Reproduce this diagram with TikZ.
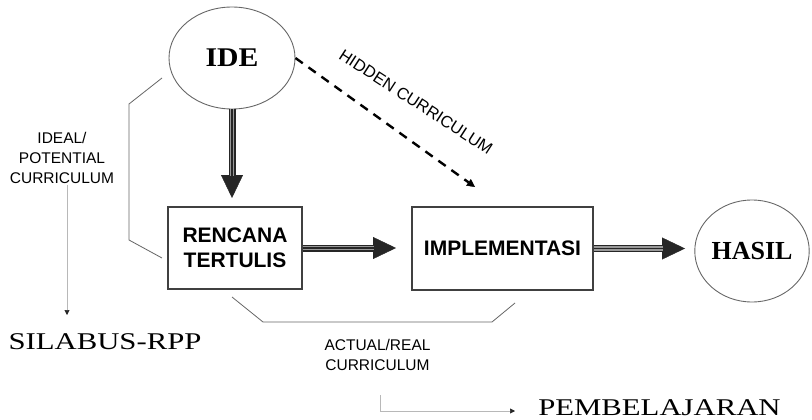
\documentclass[tikz,border=0pt]{standalone}
\usepackage{fontspec}
\usepackage{graphicx}
\setmainfont{Liberation Serif}
\setsansfont{Liberation Sans}
\usetikzlibrary{arrows.meta,shapes.geometric}
\begin{document}
\begin{tikzpicture}[x=1pt,y=-1pt,
  box/.style={draw=black!75, line width=1.1pt, minimum width=134pt, minimum height=82pt, inner sep=0pt, align=center, font=\sffamily\bfseries\fontsize{21}{25}\selectfont},
  oval/.style={ellipse, draw=black!60, line width=0.9pt, inner sep=0pt, font=\bfseries\fontsize{27}{30}\selectfont},
  lbl/.style={font=\sffamily\fontsize{15.5}{20}\selectfont, align=center},
  big/.style={font=\fontsize{24}{28}\selectfont, anchor=base, inner sep=0pt},
  tri/.style={line width=7pt, draw=black!85, -{Triangle[length=23pt,width=22pt,line width=0.4pt]},
    postaction={draw=black!40, line width=4.4pt, shorten >=22pt, -},
    postaction={draw=black!85, line width=1.3pt, shorten >=22pt, -}},
  bracket/.style={draw=black!60, line width=0.8pt},
  thinarrow/.style={draw=black!28, line width=0.6pt, -{Triangle[length=5pt,width=5pt,color=black!85]}},
  hiddenarrow/.style={draw=black, line width=2.4pt, dash pattern=on 9pt off 7pt, -{Triangle[length=8pt,width=8pt,line width=0.4pt]}}
]
\useasboundingbox (0,0) rectangle (812,420);

% main nodes
\node[oval, minimum width=126pt, minimum height=102pt] (ide) at (232,58) {\scalebox{1.1}[1]{IDE}};
\node[box] (ren) at (235,248) {RENCANA\\TERTULIS};
\node[box, minimum width=181pt, minimum height=83pt] (imp) at (502.5,248.5) {IMPLEMENTASI};
\node[oval, minimum width=114pt, minimum height=102pt, font=\bfseries\fontsize{26}{30}\selectfont] (hasil) at (752,251) {HASIL};

% labels
\node[lbl] (ideal) at (62,157.5) {IDEAL/\\POTENTIAL\\CURRICULUM};
\node[lbl] (actual) at (377.5,354.5) {ACTUAL/REAL\\CURRICULUM};
\node[lbl, font=\sffamily\fontsize{16.5}{20}\selectfont, rotate=-33] (hidden) at (416,102) {HIDDEN CURRICULUM};
\node[big] (silabus) at (105,349) {\scalebox{1.28}[1]{SILABUS-RPP}};
\node[big] (pemb) at (659.5,415) {\scalebox{1.28}[1]{PEMBELAJARAN}};

% coordinates
\coordinate (t1) at (232,198);
\coordinate (t2) at (396,248);
\coordinate (t3) at (685,248.5);
\coordinate (h2) at (475,187);
\coordinate (b1) at (162,78);
\coordinate (b2) at (129,104);
\coordinate (b3) at (129,240);
\coordinate (b4) at (162,258);
\coordinate (c1) at (232,297);
\coordinate (c2) at (263,322);
\coordinate (c3) at (492,322);
\coordinate (c4) at (515,303);
\coordinate (g1) at (67,185);
\coordinate (g2) at (67,315);
\coordinate (p1) at (380,395);
\coordinate (p2) at (515,411);

% thick triple arrows
\draw[tri] (ide.south) -- (t1);
\draw[tri] (ren.east) -- (t2);
\draw[tri] (imp.east) -- (t3);

% hidden curriculum
\draw[hiddenarrow] (ide.east) -- (h2);

% brackets
\draw[bracket] (b1) -- (b2) -- (b3) -- (b4);
\draw[bracket] (c1) -- (c2) -- (c3) -- (c4);

% thin arrows
\draw[thinarrow] (g1) -- (g2);
\draw[thinarrow] (p1) |- (p2);
\end{tikzpicture}
\end{document}
